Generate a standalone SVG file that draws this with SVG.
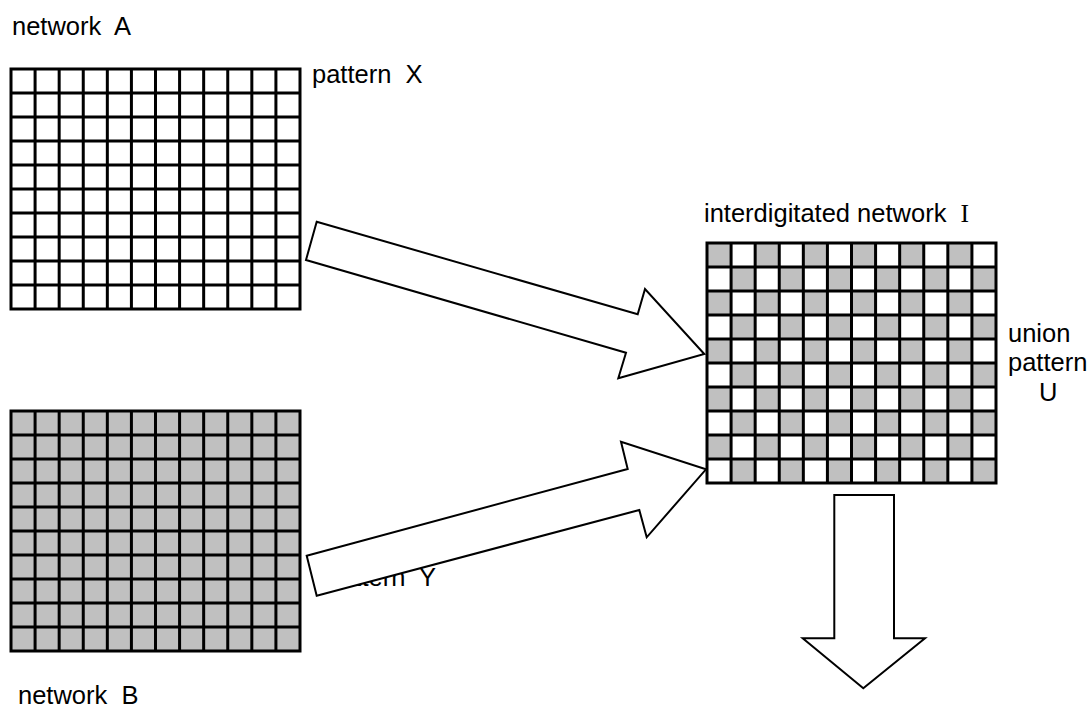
<svg xmlns="http://www.w3.org/2000/svg" xmlns:xlink="http://www.w3.org/1999/xlink" width="1092" height="711" viewBox="0 0 1092 711">
<style>
.lbl{font-family:"Liberation Sans",Arial,sans-serif;font-size:25.5px;fill:#000;white-space:pre}
.serif{font-family:"Liberation Serif","Times New Roman",serif}
.grid{fill:none;stroke:#000;stroke-width:3;stroke-linecap:square}
.arrow{fill:#fff;stroke:#000;stroke-width:2;stroke-linejoin:miter}
</style>
<defs>
<path id="gl" class="grid" d="M0 0V240M24.083 0V240M48.167 0V240M72.25 0V240M96.333 0V240M120.417 0V240M144.5 0V240M168.583 0V240M192.667 0V240M216.75 0V240M240.833 0V240M264.917 0V240M289 0V240M0 0H289M0 24H289M0 48H289M0 72H289M0 96H289M0 120H289M0 144H289M0 168H289M0 192H289M0 216H289M0 240H289"/>
<pattern id="checker" patternUnits="userSpaceOnUse" x="0" y="0" width="48.1667" height="48">
<rect x="0" y="0" width="24.0833" height="24" fill="#c0c0c0"/>
<rect x="24.0833" y="24" width="24.0833" height="24" fill="#c0c0c0"/>
</pattern>
</defs>
<rect width="1092" height="711" fill="#fff"/>

<g id="networkA">
<text class="lbl" xml:space="preserve" x="12" y="35">network  A</text>
<g transform="translate(11,69)">
<rect width="289" height="240" fill="#fff"/>
<use xlink:href="#gl"/>
</g>
<text class="lbl" xml:space="preserve" x="312" y="83">pattern  X</text>
</g>

<g id="networkB">
<g transform="translate(11,411)">
<rect width="289" height="240" fill="#c0c0c0"/>
<use xlink:href="#gl"/>
</g>
<text class="lbl" xml:space="preserve" x="326" y="586">pattern  Y</text>
<text class="lbl" xml:space="preserve" x="18" y="704">network  B</text>
</g>

<g id="networkI">
<text class="lbl" xml:space="preserve" x="704" y="222">interdigitated network  <tspan class="serif">I</tspan></text>
<g transform="translate(707,243)">
<rect width="289" height="240" fill="#fff"/>
<rect width="289" height="240" fill="url(#checker)"/>
<use xlink:href="#gl"/>
</g>
<text class="lbl" x="1008" y="342">union</text>
<text class="lbl" x="1008" y="371">pattern</text>
<text class="lbl" x="1039" y="401">U</text>
</g>

<g id="connectors">
<polygon class="arrow" points="316.7,221.7 637.7,314.3 645,289 704.3,354 618.3,378.3 626,352.7 306,260"/>
<polygon class="arrow" points="306.7,555.7 627.7,469 621,441.7 706,469.3 646.7,537.3 639.3,510 316.7,595.7"/>
<polygon class="arrow" points="834.3,495 894,495 894,638.3 925,638.3 863.3,688.3 802.7,638.3 834.3,638.3"/>
</g>
</svg>
